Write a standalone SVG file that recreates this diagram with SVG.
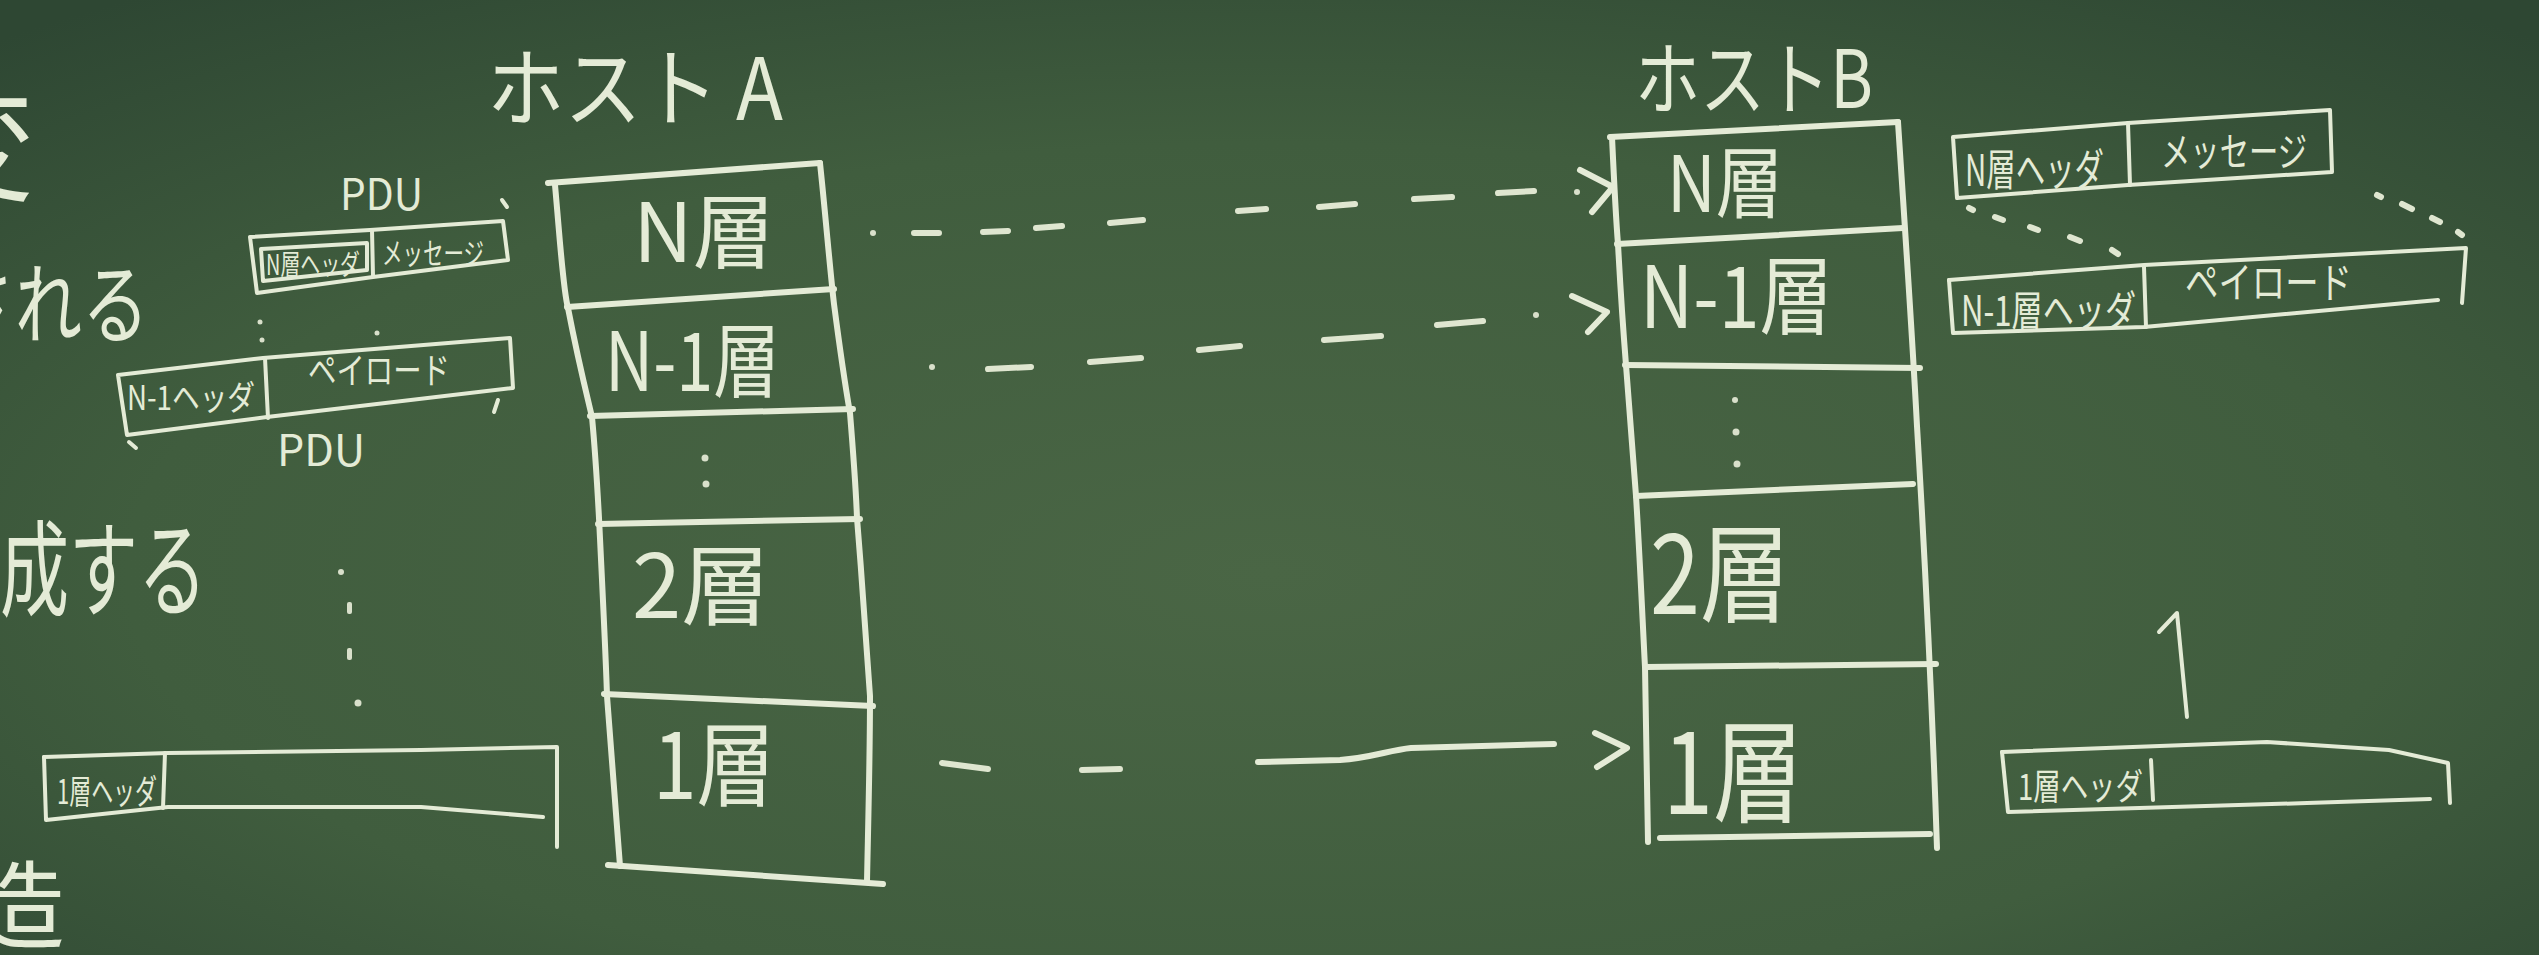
<svg xmlns="http://www.w3.org/2000/svg" width="2539" height="955" viewBox="0 0 2539 955">
<defs>
<radialGradient id="board" cx="0.5" cy="0.6" r="0.75">
<stop offset="0" stop-color="#4a6645"/>
<stop offset="0.6" stop-color="#405d3e"/>
<stop offset="1" stop-color="#2e4733"/>
</radialGradient>
<style>
.ch{fill:none;stroke:#e4ebd6;stroke-width:6;stroke-linecap:round;stroke-linejoin:round}
.cs{fill:none;stroke:#e4ebd6;stroke-width:4;stroke-linecap:round;stroke-linejoin:round}
.dash{fill:none;stroke:#dfe6d0;stroke-width:6;stroke-linecap:round}
.t{fill:#e4ebd6;font-family:"Noto Sans CJK JP","Noto Sans",sans-serif}
.dot{fill:#d9e0cb}
</style>
</defs>
<rect x="0" y="0" width="2539" height="955" fill="url(#board)"/>

<g id="left-notes">
<text class="t" x="-91" y="191" font-size="125">変</text>
<text class="t" x="-52" y="336" font-size="88" textLength="201" lengthAdjust="spacingAndGlyphs">される</text>
<text class="t" x="-69" y="608" font-size="105" textLength="276" lengthAdjust="spacingAndGlyphs">構成する</text>
<text class="t" x="-30" y="941" font-size="95">造</text>
<circle class="dot" cx="341" cy="572" r="3"/>
<rect class="dot" x="347" y="602" width="5" height="12" rx="2"/>
<rect class="dot" x="347" y="648" width="5" height="12" rx="2"/>
<circle class="dot" cx="358" cy="703" r="3.5"/>
</g>

<g id="pdu-left-n">
<text class="t" x="340" y="210" font-size="44" textLength="83" lengthAdjust="spacingAndGlyphs">PDU</text>
<path class="cs" d="M250,237 L370,230 L503,221 L508,260 L373,277 L257,293 Z"/>
<path class="cs" d="M372,230 L373,276"/>
<path class="cs" d="M261,249 L367,243 L367,270 L263,281 Z"/>
<path class="cs" d="M502,200 L507,207"/>
<text class="t" x="266" y="275" font-size="28" textLength="94" lengthAdjust="spacingAndGlyphs">N層ヘッダ</text>
<text class="t" x="382" y="264" font-size="30" textLength="102" lengthAdjust="spacingAndGlyphs">メッセージ</text>
</g>

<g id="pdu-left-n1">
<path class="cs" d="M118,375 L263,358 L510,338 L513,388 L267,417 L127,435 Z"/>
<path class="cs" d="M265,358 L268,418"/>
<text class="t" x="127" y="410" font-size="34" textLength="128" lengthAdjust="spacingAndGlyphs">N-1ヘッダ</text>
<text class="t" x="308" y="384" font-size="36" textLength="142" lengthAdjust="spacingAndGlyphs">ペイロード</text>
<text class="t" x="277" y="466" font-size="44" textLength="88" lengthAdjust="spacingAndGlyphs">PDU</text>
<path class="cs" d="M498,400 L494,412"/>
<path class="cs" d="M129,442 L136,448"/>
<circle class="dot" cx="260" cy="322" r="2.5"/>
<circle class="dot" cx="262" cy="340" r="2.5"/>
<circle class="dot" cx="377" cy="333" r="2.5"/>
</g>

<g id="pdu-left-1">
<path class="cs" d="M44,757 L168,753 L421,750 L557,747 L557,847"/>
<path class="cs" d="M44,757 L46,820 L168,807 L421,807 L543,817"/>
<path class="cs" d="M165,753 L163,808"/>
<text class="t" x="57" y="804" font-size="34" textLength="100" lengthAdjust="spacingAndGlyphs">1層ヘッダ</text>
</g>

<g id="hostA">
<text class="t" x="487" y="120" font-size="86" textLength="296" lengthAdjust="spacingAndGlyphs">ホスト A</text>
<path class="ch" d="M548,183 L820,163"/>
<path class="ch" d="M555,185 C560,240 563,290 568,308 C578,360 588,400 592,417 C596,460 598,500 599,518 C603,600 606,660 607,696 C612,760 617,820 620,866"/>
<path class="ch" d="M820,163 C826,220 830,270 834,304 C840,350 846,390 850,413 C853,450 856,490 857,518 C862,580 867,650 870,696 C870,760 868,830 867,882"/>
<path class="ch" d="M608,865 L883,884"/>
<path class="ch" d="M567,307 L834,289"/>
<path class="ch" d="M590,416 L853,409"/>
<path class="ch" d="M598,524 L860,519"/>
<path class="ch" d="M604,694 L873,706"/>
<text class="t" x="704" y="262" font-size="82" text-anchor="middle">N層</text>
<text class="t" x="605" y="391" font-size="82" textLength="175" lengthAdjust="spacingAndGlyphs">N-1層</text>
<circle class="dot" cx="705" cy="458" r="3.5"/>
<circle class="dot" cx="706" cy="484" r="3.5"/>
<text class="t" x="632" y="618" font-size="88" textLength="138" lengthAdjust="spacingAndGlyphs">2層</text>
<text class="t" x="653" y="799" font-size="92" textLength="122" lengthAdjust="spacingAndGlyphs">1層</text>
</g>

<g id="hostB">
<text class="t" x="1635" y="108" font-size="80" textLength="238" lengthAdjust="spacingAndGlyphs">ホストB</text>
<path class="ch" d="M1610,137 L1898,122"/>
<path class="ch" d="M1612,137 C1614,180 1616,220 1618,244 C1621,300 1624,340 1626,365 C1630,420 1634,470 1636,496 C1640,560 1643,630 1645,667 C1646,730 1647,790 1648,842"/>
<path class="ch" d="M1898,122 C1905,230 1912,330 1917,426 C1925,560 1932,700 1937,848"/>
<path class="ch" d="M1660,838 L1930,834"/>
<path class="ch" d="M1617,244 L1903,228"/>
<path class="ch" d="M1625,365 L1920,368"/>
<path class="ch" d="M1636,496 L1913,484"/>
<path class="ch" d="M1646,667 L1936,664"/>
<text class="t" x="1667" y="212" font-size="78" textLength="116" lengthAdjust="spacingAndGlyphs">N層</text>
<text class="t" x="1640" y="328" font-size="86" textLength="193" lengthAdjust="spacingAndGlyphs">N-1層</text>
<circle class="dot" cx="1735" cy="400" r="3"/>
<circle class="dot" cx="1736" cy="432" r="3.5"/>
<circle class="dot" cx="1737" cy="464" r="3.5"/>
<text class="t" x="1650" y="614" font-size="108" textLength="140" lengthAdjust="spacingAndGlyphs">2層</text>
<text class="t" x="1663" y="814" font-size="112" textLength="140" lengthAdjust="spacingAndGlyphs">1層</text>
</g>

<g id="pdu-right-n">
<path class="cs" d="M1953,137 L2128,123 L2330,110 L2332,172 L2128,185 L1957,198 Z"/>
<path class="cs" d="M2128,123 L2130,185"/>
<text class="t" x="1965" y="186" font-size="44" textLength="139" lengthAdjust="spacingAndGlyphs">N層ヘッダ</text>
<text class="t" x="2161" y="166" font-size="40" textLength="146" lengthAdjust="spacingAndGlyphs">メッセージ</text>
</g>

<g id="pdu-right-n1">
<path class="cs" d="M1949,280 L2144,265 L2466,248 L2462,303"/>
<path class="cs" d="M1949,280 L1953,333 L2144,327 L2438,300"/>
<path class="cs" d="M2144,267 L2146,327"/>
<text class="t" x="1961" y="326" font-size="42" textLength="175" lengthAdjust="spacingAndGlyphs">N-1層ヘッダ</text>
<text class="t" x="2185" y="298" font-size="42" textLength="167" lengthAdjust="spacingAndGlyphs">ペイロード</text>
</g>

<g id="pdu-right-1">
<path class="cs" d="M2002,752 L2267,742 L2389,750 L2448,763 L2450,803"/>
<path class="cs" d="M2002,752 L2008,812 L2307,803 L2430,799"/>
<path class="cs" d="M2151,760 L2153,800"/>
<text class="t" x="2018" y="800" font-size="36" textLength="125" lengthAdjust="spacingAndGlyphs">1層ヘッダ</text>
<path class="cs" d="M2187,717 L2177,613 M2159,632 L2177,613"/>
</g>

<g id="connectors">
<circle class="dot" cx="873" cy="233" r="3"/>
<path class="dash" d="M914,233 L939,233 M983,232 L1008,231 M1036,228 L1062,226 M1110,223 L1143,220 M1238,211 L1266,209 M1319,207 L1355,204 M1414,199 L1452,197 M1498,193 L1534,191"/>
<circle class="dot" cx="1577" cy="192" r="3"/>
<path class="ch" d="M1580,170 L1613,187 L1592,212"/>
<circle class="dot" cx="932" cy="367" r="3"/>
<path class="dash" d="M988,369 L1031,367 M1090,362 L1141,358 M1199,350 L1240,346 M1324,340 L1381,336 M1437,325 L1483,321"/>
<circle class="dot" cx="1536" cy="315" r="3"/>
<path class="ch" d="M1572,296 L1607,312 L1588,332"/>
<path class="dash" d="M942,763 L988,769 M1082,770 L1120,769"/>
<path class="ch" d="M1258,762 L1340,760 C1370,758 1390,750 1411,748 L1554,744"/>
<path class="ch" d="M1595,733 L1627,748 L1597,767"/>
<path class="dash" stroke-width="5" d="M1969,208 L1973,210 M1995,217 L2003,220 M2030,227 L2038,230 M2070,237 L2080,241 M2112,250 L2118,254"/>
<path class="dash" stroke-width="5" d="M2377,195 L2381,197 M2402,204 L2412,209 M2432,218 L2440,222 M2458,232 L2462,235"/>
</g>
</svg>
